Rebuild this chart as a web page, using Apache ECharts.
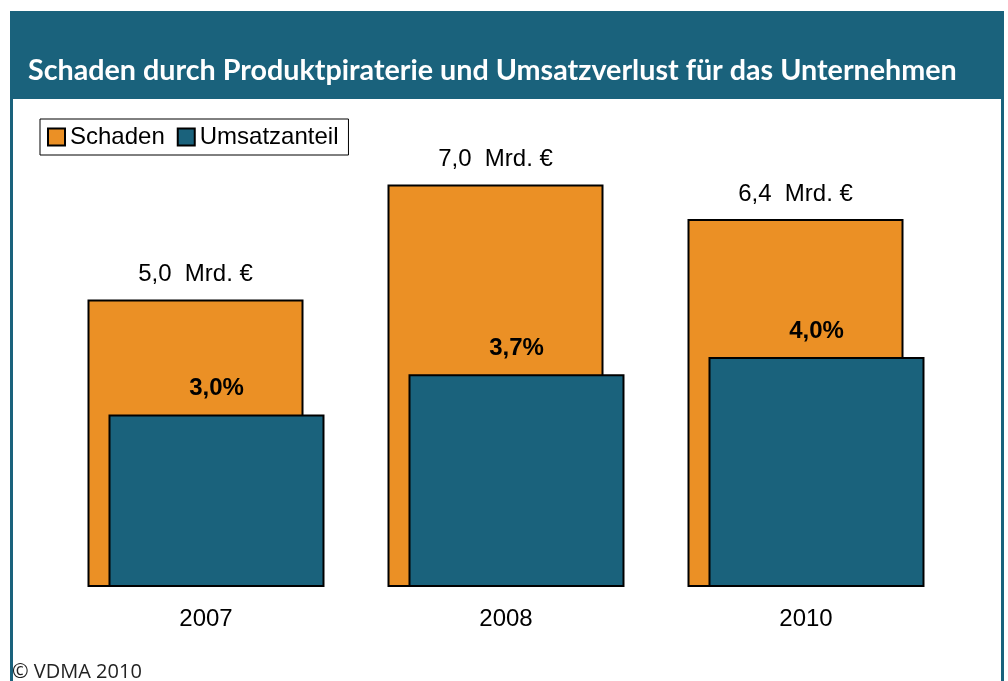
<!DOCTYPE html>
<html>
<head>
<meta charset="utf-8">
<script src="https://cdn.jsdelivr.net/npm/echarts@6/dist/echarts.min.js"></script>
<style>
html,body{margin:0;padding:0;background:#fff;}
#c{width:1008px;height:681px;}
</style>
</head>
<body>
<div id="c"></div>
<script>
var titleText = 'Schaden durch Produktpiraterie und Umsatzverlust für das Unternehmen';
var sourceText = '© VDMA 2010';
var years = ['2007', '2008', '2010'];
var seriesNames = ['Schaden', 'Umsatzanteil'];
var schaden = [5.0, 7.0, 6.4];        // Mrd. €
var umsatzanteil = [3.0, 3.7, 4.0];   // %

var ORANGE = '#EB9025';
var TEAL = '#1A627C';
var LABEL_FONT = '"Liberation Sans", Arial, sans-serif';

function de(v) { return v.toFixed(1).replace('.', ','); }

var chart = echarts.init(document.getElementById('c'), null, {renderer: 'canvas'});
chart.setOption({
  animation: false,
  backgroundColor: '#ffffff',
  title: {
    text: titleText,
    left: 28,
    top: 56,
    padding: 0,
    textStyle: {
      color: '#ffffff',
      fontFamily: 'Lato, "Open Sans", sans-serif',
      fontWeight: 'bold',
      fontSize: 28.7
    }
  },
  graphic: [
    {type: 'rect', z: -1, shape: {x: 10, y: 11, width: 994, height: 88}, style: {fill: TEAL}},
    {type: 'rect', z: -1, shape: {x: 10, y: 99, width: 3, height: 582}, style: {fill: TEAL}},
    {type: 'rect', z: -1, shape: {x: 1001, y: 99, width: 3, height: 582}, style: {fill: TEAL}},
    {type: 'text', x: 12, y: 672, style: {text: sourceText, fill: '#222', font: '20px "Open Sans", sans-serif', verticalAlign: 'middle'}}
  ],
  legend: {
    left: 40,
    top: 119,
    padding: [6, 10, 6, 7],
    itemWidth: 17,
    itemHeight: 17,
    itemGap: 12,
    icon: 'rect',
    borderColor: '#000',
    borderWidth: 1,
    backgroundColor: '#fff',
    textStyle: {color: '#000', fontSize: 24, fontFamily: LABEL_FONT},
    data: seriesNames
  },
  grid: {left: 56, right: 52, top: 127, bottom: 94},
  xAxis: {
    type: 'category',
    data: years,
    axisLine: {show: false},
    axisTick: {show: false},
    axisLabel: {color: '#000', fontSize: 24, fontFamily: LABEL_FONT, margin: 20}
  },
  yAxis: {
    type: 'value',
    min: 0,
    max: 8,
    show: false,
    splitLine: {show: false}
  },
  series: [
    {
      name: seriesNames[0],
      type: 'bar',
      data: schaden,
      barWidth: 216,
      barGap: '-90.28%',
      itemStyle: {color: ORANGE, borderColor: '#000', borderWidth: 2},
      emphasis: {disabled: true},
      label: {
        show: true,
        position: 'top',
        distance: 13,
        color: '#000',
        fontSize: 24,
        fontFamily: LABEL_FONT,
        formatter: function (p) { return de(p.value) + '  Mrd. €'; }
      }
    },
    {
      name: seriesNames[1],
      type: 'bar',
      data: umsatzanteil,
      barWidth: 216,
      itemStyle: {color: TEAL, borderColor: '#000', borderWidth: 2},
      emphasis: {disabled: true},
      label: {
        show: true,
        position: 'top',
        distance: 14,
        color: '#000',
        fontSize: 24,
        fontWeight: 'bold',
        fontFamily: LABEL_FONT,
        formatter: function (p) { return de(p.value) + '%'; }
      }
    }
  ]
});
</script>
</body>
</html>
